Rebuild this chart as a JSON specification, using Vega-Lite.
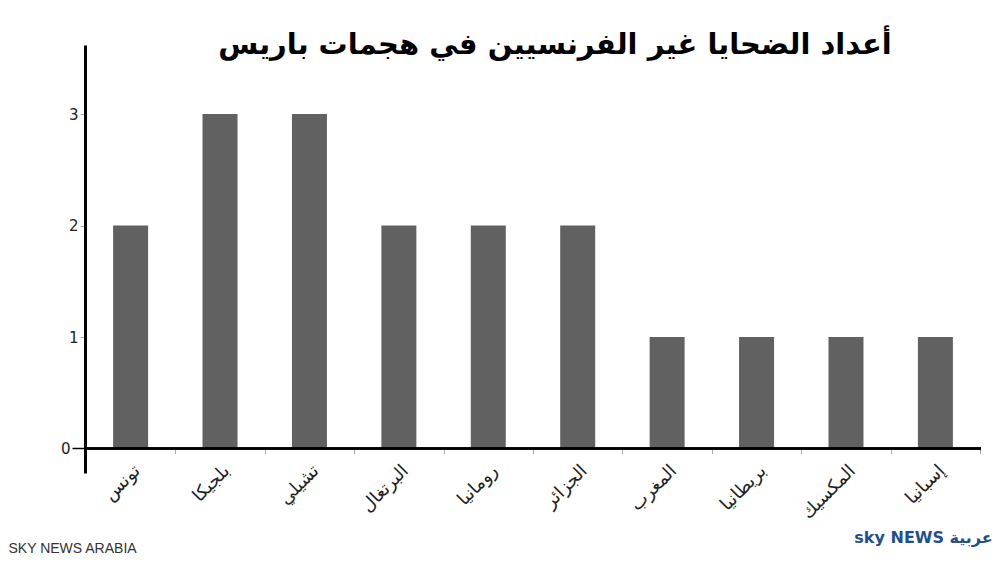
{
  "$schema": "https://vega.github.io/schema/vega-lite/v6.json",
  "width": 896,
  "height": 428,
  "autosize": {"type": "none"},
  "padding": {"left": 85, "top": 45, "right": 19, "bottom": 90},
  "background": "white",
  "title": {
    "text": "أعداد الضحايا غير الفرنسيين في هجمات باريس",
    "font": "DejaVu Sans",
    "fontSize": 29,
    "fontWeight": "bold",
    "color": "black",
    "anchor": "middle",
    "dx": 22,
    "offset": -15
  },
  "config": {"view": {"stroke": null}, "axis": {"grid": false}},
  "data": {
    "values": [
      {"country": "تونس", "victims": 2},
      {"country": "بلجيكا", "victims": 3},
      {"country": "تشيلي", "victims": 3},
      {"country": "البرتغال", "victims": 2},
      {"country": "رومانيا", "victims": 2},
      {"country": "الجزائر", "victims": 2},
      {"country": "المغرب", "victims": 1},
      {"country": "بريطانيا", "victims": 1},
      {"country": "المكسيك", "victims": 1},
      {"country": "إسبانيا", "victims": 1}
    ]
  },
  "layer": [
    {
      "mark": {"type": "bar", "color": "#616161", "width": 35},
      "encoding": {
        "x": {
          "field": "country",
          "type": "nominal",
          "sort": null,
          "scale": {"paddingInner": 0, "paddingOuter": 0.01},
          "axis": {
            "domain": false,
            "offset": -24.5,
            "ticks": true,
            "tickBand": "extent",
            "tickColor": "#aaaaaa",
            "tickSize": 5,
            "labelAngle": -45,
            "labelFont": "DejaVu Sans",
            "labelFontSize": 18,
            "labelColor": "#222222",
            "labelPadding": 8,
            "title": "SKY NEWS ARABIA",
            "titleFont": "Liberation Sans",
            "titleFontSize": 14,
            "titleFontWeight": "normal",
            "titleColor": "#333333",
            "titleAnchor": "start",
            "titleAlign": "left",
            "titleBaseline": "middle",
            "titleX": -77,
            "titleY": 100
          }
        },
        "y": {
          "field": "victims",
          "type": "quantitative",
          "scale": {"domain": [-0.22, 3.62], "nice": false, "zero": false},
          "axis": {
            "values": [0, 1, 2, 3],
            "format": "d",
            "domainColor": "black",
            "domainWidth": 3,
            "tickColor": {"condition": {"test": "datum.value === 0", "value": "black"}, "value": "#aaaaaa"},
            "tickSize": {"condition": {"test": "datum.value === 0", "value": 13}, "value": 5},
            "tickWidth": {"condition": {"test": "datum.value === 0", "value": 1.5}, "value": 1},
            "labelFont": "DejaVu Sans",
            "labelFontSize": 15,
            "labelColor": "#222222",
            "labelPadding": 2,
            "title": "sky NEWS عربية",
            "titleAngle": 0,
            "titleFont": "DejaVu Sans",
            "titleFontSize": 16,
            "titleFontWeight": "bold",
            "titleColor": "#1f4f8f",
            "titleAlign": "center",
            "titleBaseline": "middle",
            "titleX": 838,
            "titleY": 492
          }
        },
        "y2": {"datum": 0}
      }
    },
    {
      "mark": {"type": "rule", "color": "black", "strokeWidth": 1.5},
      "encoding": {"y": {"datum": 0}}
    }
  ]
}
